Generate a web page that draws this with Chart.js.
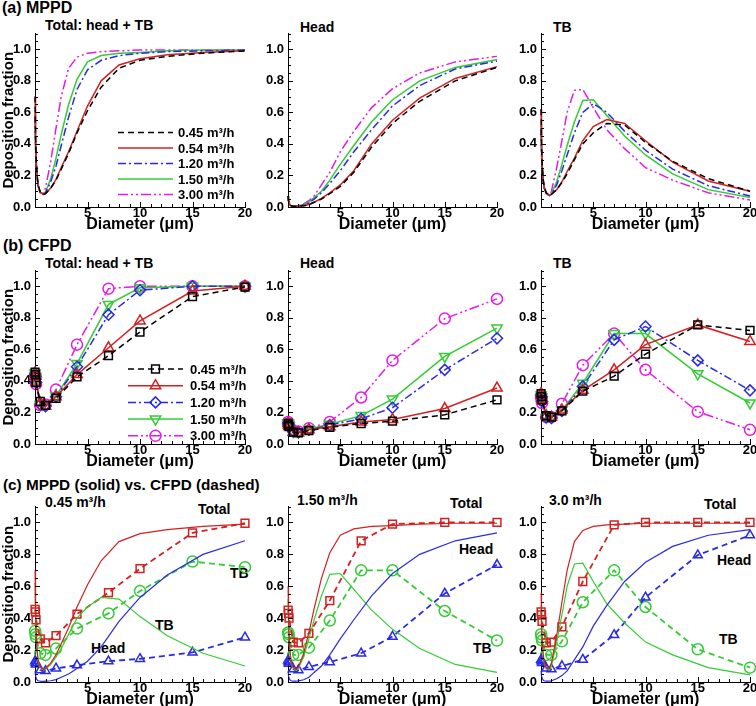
<!DOCTYPE html>
<html>
<head>
<meta charset="utf-8">
<script src="https://cdn.jsdelivr.net/npm/chart.js@4.4.1/dist/chart.umd.min.js"></script>
<style>
  html, body { margin: 0; padding: 0; background: #fff; overflow: hidden; }
  body { width: 756px; height: 706px; position: relative; font-family: "Liberation Sans", Arial, sans-serif; font-weight: bold; color: #000; }
  canvas { position: absolute; }
  .lbl { position: absolute; white-space: nowrap; line-height: 1; }
</style>
</head>
<body>
<div class="lbl" style="left:2px;top:0px;font-size:16px">(a) MPPD</div>
<div class="lbl" style="left:45px;top:17.5px;font-size:14px">Total: head + TB</div>
<div class="lbl" style="left:300px;top:20px;font-size:14px">Head</div>
<div class="lbl" style="left:553px;top:20px;font-size:14px">TB</div>

<div class="lbl" style="left:3px;top:237.5px;font-size:16px">(b) CFPD</div>
<div class="lbl" style="left:45px;top:256px;font-size:14px">Total: head + TB</div>
<div class="lbl" style="left:300px;top:256px;font-size:14px">Head</div>
<div class="lbl" style="left:553px;top:256px;font-size:14px">TB</div>

<div class="lbl" style="left:3px;top:477px;font-size:15.3px">(c) MPPD (solid) vs. CFPD (dashed)</div>
<div class="lbl" style="left:45px;top:495px;font-size:14px">0.45 m³/h</div>
<div class="lbl" style="left:297px;top:492.5px;font-size:14px">1.50 m³/h</div>
<div class="lbl" style="left:549px;top:492.5px;font-size:14px">3.0 m³/h</div>

<div class="lbl" style="left:198px;top:501.5px;font-size:14px">Total</div>
<div class="lbl" style="left:230px;top:566px;font-size:14px">TB</div>
<div class="lbl" style="left:155px;top:618px;font-size:14px">TB</div>
<div class="lbl" style="left:91px;top:641px;font-size:14px">Head</div>

<div class="lbl" style="left:450px;top:496px;font-size:14px">Total</div>
<div class="lbl" style="left:459px;top:541.5px;font-size:14px">Head</div>
<div class="lbl" style="left:473px;top:640.5px;font-size:14px">TB</div>

<div class="lbl" style="left:704px;top:496.5px;font-size:14px">Total</div>
<div class="lbl" style="left:717px;top:552.5px;font-size:14px">Head</div>
<div class="lbl" style="left:719px;top:631.5px;font-size:14px">TB</div>

<script>
// ---- data ----
const flowLabels = ['0.45 m³/h', '0.54 m³/h', '1.20 m³/h', '1.50 m³/h', '3.00 m³/h'];
const xTickVals = [5, 10, 15, 20];
const yTickVals = [0, 0.2, 0.4, 0.6, 0.8, 1.0];

// MPPD curves (diameter in um)
const mppdX = [0.01, 0.05, 0.1, 0.2, 0.3, 0.5, 0.8, 1, 1.5, 2, 2.5, 3.2, 4, 5, 6.3, 8, 10, 12.6, 16, 20];

const mTot045 = [0.70, 0.45, 0.32, 0.20, 0.14, 0.095, 0.08, 0.085, 0.12, 0.17, 0.24, 0.34, 0.47, 0.61, 0.76, 0.88, 0.93, 0.955, 0.975, 0.99];
const mTot054 = [0.70, 0.45, 0.32, 0.20, 0.14, 0.095, 0.08, 0.085, 0.12, 0.175, 0.25, 0.35, 0.48, 0.64, 0.80, 0.90, 0.94, 0.965, 0.98, 0.99];
const mTot120 = [0.58, 0.40, 0.29, 0.19, 0.13, 0.09, 0.08, 0.09, 0.16, 0.26, 0.39, 0.57, 0.745, 0.87, 0.93, 0.96, 0.975, 0.985, 0.99, 0.995];
const mTot150 = [0.60, 0.41, 0.29, 0.19, 0.13, 0.09, 0.08, 0.095, 0.18, 0.31, 0.46, 0.65, 0.81, 0.92, 0.96, 0.975, 0.98, 0.99, 0.995, 0.995];
const mTot300 = [0.56, 0.38, 0.28, 0.18, 0.13, 0.09, 0.085, 0.12, 0.29, 0.50, 0.70, 0.88, 0.95, 0.975, 0.985, 0.99, 0.995, 0.995, 0.995, 0.995];

const mHead045 = [0.07, 0.04, 0.025, 0.012, 0.008, 0.005, 0.004, 0.005, 0.008, 0.015, 0.03, 0.05, 0.085, 0.13, 0.22, 0.38, 0.53, 0.67, 0.80, 0.885];
const mHead054 = [0.07, 0.04, 0.025, 0.012, 0.008, 0.005, 0.004, 0.005, 0.008, 0.016, 0.03, 0.055, 0.09, 0.14, 0.23, 0.40, 0.55, 0.69, 0.815, 0.89];
const mHead120 = [0.07, 0.04, 0.025, 0.012, 0.008, 0.005, 0.005, 0.006, 0.012, 0.025, 0.05, 0.09, 0.15, 0.23, 0.35, 0.49, 0.64, 0.77, 0.875, 0.925];
const mHead150 = [0.07, 0.04, 0.025, 0.012, 0.008, 0.005, 0.005, 0.007, 0.014, 0.03, 0.06, 0.10, 0.17, 0.27, 0.39, 0.54, 0.68, 0.80, 0.885, 0.935];
const mHead300 = [0.07, 0.04, 0.025, 0.012, 0.008, 0.005, 0.006, 0.008, 0.02, 0.04, 0.07, 0.14, 0.22, 0.35, 0.48, 0.63, 0.75, 0.85, 0.92, 0.955];

const mTB045 = [0.62, 0.41, 0.29, 0.18, 0.13, 0.09, 0.075, 0.08, 0.11, 0.155, 0.21, 0.30, 0.40, 0.47, 0.53, 0.52, 0.41, 0.29, 0.18, 0.10];
const mTB054 = [0.62, 0.41, 0.29, 0.18, 0.13, 0.09, 0.075, 0.08, 0.11, 0.16, 0.225, 0.31, 0.42, 0.51, 0.555, 0.53, 0.42, 0.285, 0.165, 0.10];
const mTB120 = [0.50, 0.35, 0.26, 0.17, 0.12, 0.085, 0.072, 0.08, 0.14, 0.23, 0.33, 0.47, 0.60, 0.655, 0.60, 0.48, 0.36, 0.24, 0.135, 0.07];
const mTB150 = [0.52, 0.36, 0.26, 0.17, 0.12, 0.085, 0.072, 0.085, 0.16, 0.27, 0.39, 0.54, 0.675, 0.68, 0.58, 0.45, 0.33, 0.21, 0.11, 0.06];
const mTB300 = [0.48, 0.33, 0.25, 0.16, 0.12, 0.085, 0.075, 0.10, 0.25, 0.42, 0.60, 0.74, 0.745, 0.63, 0.49, 0.37, 0.25, 0.17, 0.09, 0.045];

// CFPD points
const cfpdX = [0.01, 0.05, 0.1, 0.5, 1, 2, 4, 7, 10, 15, 20];

const cTot045 = [0.455, 0.44, 0.39, 0.27, 0.245, 0.29, 0.425, 0.56, 0.71, 0.935, 0.995];
const cTot054 = [0.45, 0.43, 0.39, 0.26, 0.24, 0.30, 0.44, 0.61, 0.78, 0.97, 1.0];
const cTot120 = [0.44, 0.43, 0.39, 0.25, 0.24, 0.30, 0.49, 0.82, 0.975, 1.0, 1.0];
const cTot150 = [0.45, 0.43, 0.40, 0.25, 0.245, 0.305, 0.51, 0.885, 0.99, 1.0, 1.0];
const cTot300 = [0.44, 0.42, 0.38, 0.245, 0.25, 0.345, 0.63, 0.985, 1.0, 1.0, 1.0];

const cHead045 = [0.13, 0.12, 0.11, 0.075, 0.07, 0.085, 0.105, 0.13, 0.145, 0.185, 0.28];
const cHead054 = [0.13, 0.12, 0.11, 0.075, 0.07, 0.09, 0.11, 0.14, 0.155, 0.225, 0.355];
const cHead120 = [0.13, 0.12, 0.11, 0.08, 0.075, 0.09, 0.12, 0.16, 0.23, 0.47, 0.67];
const cHead150 = [0.135, 0.125, 0.115, 0.08, 0.075, 0.095, 0.125, 0.18, 0.285, 0.555, 0.735];
const cHead300 = [0.14, 0.13, 0.12, 0.085, 0.08, 0.10, 0.14, 0.295, 0.53, 0.795, 0.92];

const cTB045 = [0.32, 0.30, 0.28, 0.18, 0.17, 0.21, 0.335, 0.43, 0.57, 0.755, 0.72];
const cTB054 = [0.32, 0.31, 0.28, 0.18, 0.17, 0.215, 0.34, 0.47, 0.63, 0.755, 0.65];
const cTB120 = [0.31, 0.30, 0.27, 0.17, 0.165, 0.21, 0.365, 0.66, 0.745, 0.53, 0.34];
const cTB150 = [0.31, 0.30, 0.28, 0.17, 0.17, 0.215, 0.385, 0.70, 0.70, 0.445, 0.26];
const cTB300 = [0.30, 0.28, 0.26, 0.17, 0.17, 0.255, 0.50, 0.70, 0.47, 0.205, 0.09];

// ---- layout / styles ----
const PANEL_COLS = [{l: 35, r: 245}, {l: 288, r: 497}, {l: 541, r: 750}];
const PANEL_ROWS = [{t: 27, b: 207}, {t: 264, b: 444}, {t: 500, b: 682}];
const PAD = {l: 35, r: 12, t: 4, b: 27};
const FONT = '"Liberation Sans", Arial, sans-serif';

const flowStyles = [
    {color: '#000000', dash: [6, 4], point: 'rect', r: 5.5, rot: 0},
    {color: '#d42020', dash: [], point: 'triangle', r: 6, rot: 0},
    {color: '#2a2ae6', dash: [8, 3, 2, 3], point: 'rectRot', r: 5.5, rot: 0},
    {color: '#33cc33', dash: [], point: 'triangle', r: 6, rot: 180},
    {color: '#e619e6', dash: [10, 3, 2, 3, 2, 3], point: 'circle', r: 5.5, rot: 0}
];
const RED = '#d42020', BLUE = '#2a2ae6', GREEN = '#33cc33';

const pts = (xs, ys) => xs.map((x, i) => ({x, y: ys[i]}));

const lineSet = (label, ys, color, dash, w) => ({
    label, data: pts(mppdX, ys), borderColor: color, borderDash: dash,
    borderWidth: w, pointRadius: 0, fill: false, clip: false
});

const markSet = (label, ys, color, dash, w, point, r, rot) => ({
    label, data: pts(cfpdX, ys), borderColor: color, borderDash: dash, borderWidth: w,
    pointStyle: point, pointRadius: r, pointRotation: rot, pointBorderWidth: 1.5,
    pointBorderColor: color, pointBackgroundColor: 'rgba(0,0,0,0)', fill: false, clip: false
});

// tick marks drawn inward, like the original
const innerTicks = {
    id: 'innerTicks',
    afterDraw(chart) {
        const {ctx, chartArea: a, scales: {x, y}} = chart;
        ctx.save();
        ctx.strokeStyle = '#000';
        ctx.lineWidth = 1;
        ctx.beginPath();
        for (let v = 0; v <= 20; v++) {
            const px = Math.round(x.getPixelForValue(v)) + 0.5;
            const len = v % 5 === 0 ? 5 : 3;
            ctx.moveTo(px, a.bottom);
            ctx.lineTo(px, a.bottom - len);
        }
        for (let k = 0; k <= 22; k++) {
            const py = Math.round(y.getPixelForValue(k * 0.05)) + 0.5;
            const len = k % 4 === 0 ? 5 : 3;
            ctx.moveTo(a.left, py);
            ctx.lineTo(a.left + len, py);
        }
        ctx.stroke();
        ctx.restore();
    }
};

// legend inside the plot area
const inLegend = {
    id: 'inLegend',
    afterDraw(chart, args, opts) {
        if (!opts.show) return;
        const {ctx, chartArea: a} = chart;
        chart.data.datasets.forEach((ds, i) => {
            const x0 = a.left + opts.x, y0 = a.top + opts.y + i * opts.dy;
            ctx.save();
            ctx.strokeStyle = ds.borderColor;
            ctx.lineWidth = ds.borderWidth;
            ctx.setLineDash(ds.borderDash || []);
            ctx.beginPath();
            ctx.moveTo(x0, y0);
            ctx.lineTo(x0 + opts.len, y0);
            ctx.stroke();
            ctx.setLineDash([]);
            if (ds.pointRadius > 0 && Chart.helpers && Chart.helpers.drawPoint) {
                ctx.fillStyle = 'rgba(0,0,0,0)';
                ctx.lineWidth = ds.pointBorderWidth;
                Chart.helpers.drawPoint(ctx, {
                    pointStyle: ds.pointStyle, rotation: ds.pointRotation || 0,
                    radius: ds.pointRadius, borderWidth: ds.pointBorderWidth
                }, x0 + opts.len / 2, y0);
            }
            ctx.fillStyle = '#000';
            ctx.font = 'bold 13px ' + FONT;
            ctx.textBaseline = 'middle';
            ctx.fillText(ds.label, x0 + opts.len + opts.gap, y0 + 1);
            ctx.restore();
        });
    }
};

function makePanel(col, row, datasets, legend) {
    const c = PANEL_COLS[col], r = PANEL_ROWS[row];
    const w = c.r - c.l + PAD.l + PAD.r;
    const h = r.b - r.t + PAD.t + PAD.b;
    const cv = document.createElement('canvas');
    cv.width = w;
    cv.height = h;
    cv.style.left = (c.l - PAD.l) + 'px';
    cv.style.top = (r.t - PAD.t) + 'px';
    cv.style.width = w + 'px';
    cv.style.height = h + 'px';
    document.body.appendChild(cv);

    const tickFont = {family: FONT, weight: 'bold', size: 13, lineHeight: 1};

    new Chart(cv, {
        type: 'line',
        data: {datasets},
        options: {
            responsive: false,
            animation: false,
            devicePixelRatio: 1,
            layout: {padding: {top: PAD.t, right: PAD.r, left: 0, bottom: 0}},
            plugins: {
                legend: {display: false},
                tooltip: {enabled: false},
                inLegend: legend || {show: false}
            },
            scales: {
                x: {
                    type: 'linear', min: 0, max: 20,
                    afterBuildTicks: s => { s.ticks = xTickVals.map(v => ({value: v})); },
                    afterFit: s => { s.height = PAD.b; },
                    grid: {display: true, drawOnChartArea: false, drawTicks: false},
                    border: {display: true, color: '#000', width: 1},
                    ticks: {color: '#000', font: tickFont, padding: 0, maxRotation: 0, autoSkip: false,
                        callback: v => String(v)},
                    title: {display: true, text: 'Diameter (μm)', color: '#000', padding: 0,
                        font: {family: FONT, weight: 'bold', size: 16}}
                },
                y: {
                    type: 'linear', min: 0, max: 1.1,
                    afterBuildTicks: s => { s.ticks = yTickVals.map(v => ({value: v})); },
                    afterFit: s => { s.width = PAD.l; },
                    grid: {display: true, drawOnChartArea: false, drawTicks: false},
                    border: {display: true, color: '#000', width: 1},
                    ticks: {color: '#000', font: tickFont, padding: 4, autoSkip: false,
                        callback: v => v.toFixed(1)},
                    title: {display: col === 0, text: 'Deposition fraction', color: '#000', padding: 0,
                        font: {family: FONT, weight: 'bold', size: 15}}
                }
            }
        },
        plugins: [innerTicks, inLegend]
    });
}

// (a) MPPD
const aSets = ys => ys.map((y, i) => lineSet(flowLabels[i], y, flowStyles[i].color, flowStyles[i].dash, 1.5));
makePanel(0, 0, aSets([mTot045, mTot054, mTot120, mTot150, mTot300]),
    {show: true, x: 83, y: 99, dy: 15.5, len: 55, gap: 5});
makePanel(1, 0, aSets([mHead045, mHead054, mHead120, mHead150, mHead300]));
makePanel(2, 0, aSets([mTB045, mTB054, mTB120, mTB150, mTB300]));

// (b) CFPD
const bSets = ys => ys.map((y, i) => {
    const s = flowStyles[i];
    return markSet(flowLabels[i], y, s.color, s.dash, 1.5, s.point, s.r, s.rot);
});
makePanel(0, 1, bSets([cTot045, cTot054, cTot120, cTot150, cTot300]),
    {show: true, x: 93, y: 98.5, dy: 16.7, len: 55, gap: 7});
makePanel(1, 1, bSets([cHead045, cHead054, cHead120, cHead150, cHead300]));
makePanel(2, 1, bSets([cTB045, cTB054, cTB120, cTB150, cTB300]));

// (c) MPPD solid vs CFPD dashed
const cSets = (mT, mH, mB, cT, cH, cB) => [
    lineSet('MPPD total', mT, RED, [], 1.2),
    lineSet('MPPD head', mH, BLUE, [], 1.2),
    lineSet('MPPD TB', mB, GREEN, [], 1.2),
    markSet('CFPD total', cT, RED, [6, 4], 1.8, 'rect', 5.5, 0),
    markSet('CFPD head', cH, BLUE, [6, 4], 1.8, 'triangle', 5.2, 0),
    markSet('CFPD TB', cB, GREEN, [6, 4], 1.8, 'circle', 5.5, 0)
];
makePanel(0, 2, cSets(mTot045, mHead045, mTB045, cTot045, cHead045, cTB045));
makePanel(1, 2, cSets(mTot150, mHead150, mTB150, cTot150, cHead150, cTB150));
makePanel(2, 2, cSets(mTot300, mHead300, mTB300, cTot300, cHead300, cTB300));
</script>
</body>
</html>
